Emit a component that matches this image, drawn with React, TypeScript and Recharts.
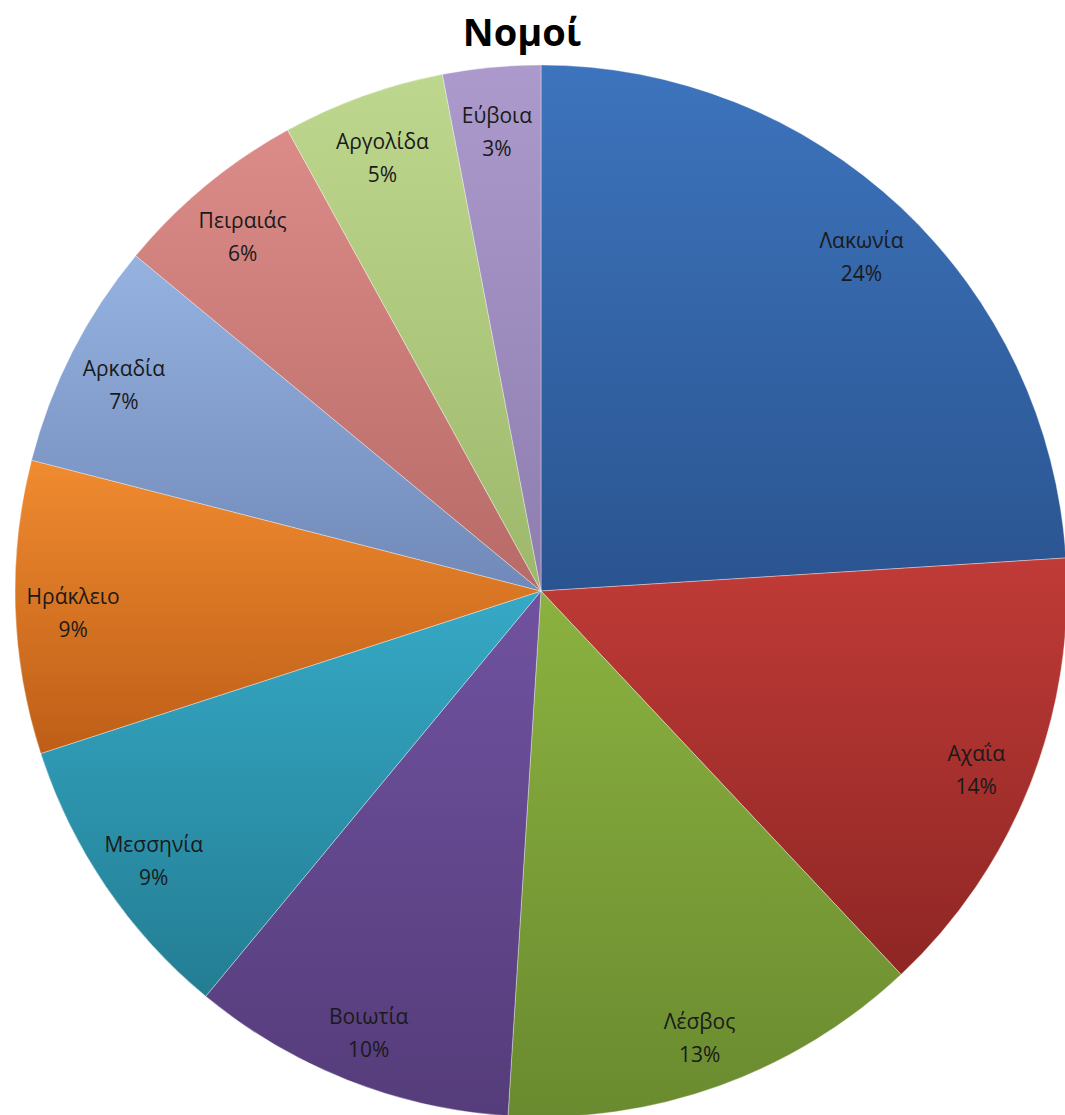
import React from "react";
import { PieChart, Pie, Cell } from "recharts";

const categories = ["Λακωνία", "Αχαΐα", "Λέσβος", "Βοιωτία", "Μεσσηνία", "Ηράκλειο", "Αρκαδία", "Πειραιάς", "Αργολίδα", "Εύβοια"];
const values = [24, 14, 13, 10, 9, 9, 7, 6, 5, 3];
const topColors = ["#3D74BD", "#C03B37", "#8BB240", "#7052A0", "#36A9C6", "#F08B30", "#95B2E0", "#DC8C88", "#BED78E", "#AB9ACB"];
const bottomColors = ["#2A5490", "#8E2624", "#6A8A2F", "#553C7A", "#237D93", "#BE5E17", "#7089B8", "#B76A67", "#9DB86B", "#8E7DAF"];
const title = "Νομοί";

const data = categories.map((name, i) => ({ name, value: values[i] }));
const total = values.reduce((a, b) => a + b, 0);

const RADIAN = Math.PI / 180;
const FONT = "'Open Sans', 'Noto Sans', sans-serif";

const renderLabel = (props: any) => {
  const { cx, cy, midAngle, outerRadius, name, value } = props;
  const r = outerRadius * 0.89;
  const x = cx + r * Math.cos(-midAngle * RADIAN);
  const y = cy + r * Math.sin(-midAngle * RADIAN);
  const pct = Math.round((value / total) * 100) + "%";
  return (
    <text x={x} y={y} textAnchor="middle" fill="#1a1a1a" fontFamily={FONT} fontSize={21}>
      <tspan x={x} dy={-2}>{name}</tspan>
      <tspan x={x} dy={33}>{pct}</tspan>
    </text>
  );
};

export default function App() {
  return (
    <div style={{ position: "absolute", left: 0, top: 0, width: 1065, height: 1115, background: "#fff", overflow: "hidden" }}>
      <PieChart width={1065} height={1115} margin={{ top: 0, right: 0, bottom: 0, left: 0 }}>
        <defs>
          {topColors.map((c, i) => (
            <linearGradient key={i} id={"g" + i} x1="0" y1="0" x2="0" y2="1">
              <stop offset="0%" stopColor={c} />
              <stop offset="100%" stopColor={bottomColors[i]} />
            </linearGradient>
          ))}
        </defs>
        <text x={522} y={46} textAnchor="middle" fontFamily={FONT} fontWeight="bold" fontSize={38} fill="#000">
          {title}
        </text>
        <Pie
          data={data}
          dataKey="value"
          nameKey="name"
          cx={541}
          cy={591}
          outerRadius={526}
          startAngle={90}
          endAngle={-270}
          isAnimationActive={false}
          label={renderLabel}
          labelLine={false}
          stroke="rgba(255,255,255,0.35)"
          strokeWidth={1}
        >
          {data.map((d, i) => (
            <Cell key={d.name} fill={`url(#g${i})`} />
          ))}
        </Pie>
      </PieChart>
    </div>
  );
}
